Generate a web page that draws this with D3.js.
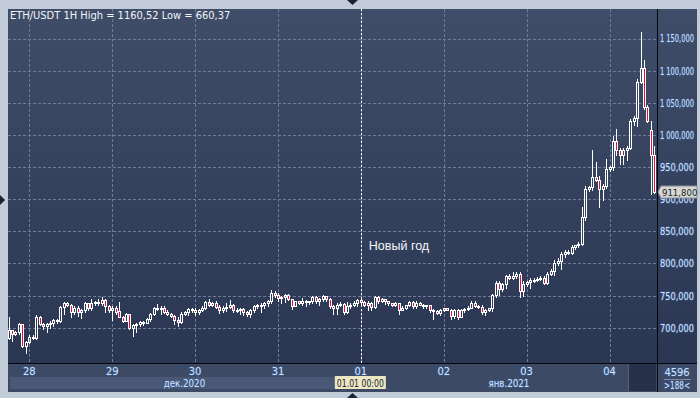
<!DOCTYPE html>
<html>
<head>
<meta charset="utf-8">
<script src="https://cdn.jsdelivr.net/npm/d3@7"></script>
<style>
body { margin: 0; background: #c2cbd8; }
svg { display: block; }
.ui { font-family: "Liberation Sans Narrow", "DejaVu Sans Condensed", "Liberation Sans", sans-serif; font-size: 11px; }
.glow { paint-order: stroke; stroke: #3f5f95; stroke-width: 1.2px; stroke-linejoin: round; }
</style>
</head>
<body>
<div id="chart"></div>
<script>
// hourly bars ETH/USDT, first bar 27.12.2020 18:00
var firstBar = new Date(2020, 11, 27, 18);

var opens = [684,696,690,693,705,671,
  678,686,684,717,706,703,706,708,712,710,732,739,735,725,730,724,727,738,730,738,740,738,743,734,
  727,730,726,717,711,721,700,704,705,709,708,713,722,730,731,730,725,722,718,712,709,722,724,729,
  727,724,728,730,740,735,739,732,727,730,732,736,727,728,729,724,721,727,733,736,735,738,741,754,
  751,746,748,751,744,734,741,739,742,740,741,748,742,745,749,744,733,731,736,737,724,733,736,738,
  743,740,735,739,732,747,742,744,741,738,735,738,728,731,735,740,733,739,736,733,735,727,726,723,
  728,730,728,718,727,717,727,729,731,738,734,732,725,728,730,751,770,760,768,780,778,780,783,757,
  768,771,775,774,776,778,770,784,789,800,804,815,818,817,826,828,831,873,916,919,934,930,916,921,
  947,950,991,977,969,976,980,1021,1026,1083,1104,1043,1008,969];
var highs = [717,697,695,707,706,680,
  688,689,719,718,708,708,710,714,713,734,740,740,737,733,733,729,740,739,745,742,745,747,745,735,
  733,733,740,718,723,722,705,707,711,710,715,723,732,737,733,733,728,723,719,716,725,726,731,730,
  730,729,733,742,745,740,741,735,734,738,743,737,730,730,730,726,729,735,737,738,740,743,758,757,
  754,750,753,752,745,742,742,746,743,742,750,749,746,751,750,746,735,738,740,739,740,738,742,745,
  744,742,741,740,749,749,746,745,742,739,740,739,733,736,742,742,741,740,737,736,736,729,727,729,
  731,731,729,729,729,729,730,733,741,742,736,736,729,731,753,772,772,770,782,783,786,787,787,772,
  773,778,778,779,780,781,787,791,805,809,818,821,821,829,829,834,888,921,921,976,958,936,923,963,
  952,998,1009,980,979,982,1024,1030,1087,1160.52,1117,1046,1022,983];
var lows = [683,680,688,690,670,660.37,
  676,683,682,704,698,694,700,703,708,709,722,733,717,721,718,715,724,728,728,735,736,735,724,725,
  712,722,716,709,710,698,687,693,702,704,707,711,720,727,722,723,720,716,705,703,707,719,720,724,
  720,722,726,729,733,734,730,723,725,726,730,725,724,722,720,718,717,725,731,725,731,733,739,748,
  742,739,740,743,729,733,737,736,734,737,738,739,735,741,742,731,722,722,733,722,723,730,734,734,
  736,733,727,727,731,739,740,737,736,733,733,722,727,729,733,730,731,735,731,731,725,713,721,720,
  726,727,714,715,713,716,725,727,730,732,730,721,719,726,726,748,751,757,762,776,776,777,748,750,
  765,762,771,772,774,768,768,782,782,797,791,810,815,815,822,825,829,867,912,914,928,888,898,918,
  944,945,968,955,955,961,978,1016,1014,1080,1040,1020,908,910];
var closes = [696,690,693,705,671,678,
  686,684,717,706,703,706,708,712,710,732,739,735,725,730,724,727,738,730,738,740,738,743,734,727,
  730,725,717,711,721,700,704,705,709,708,713,722,730,731,730,725,722,718,712,709,722,724,729,727,
  724,728,730,740,735,739,732,727,730,732,736,727,728,729,724,721,727,733,736,735,738,741,754,751,
  746,748,751,744,734,741,739,742,740,741,748,742,745,749,744,733,731,736,737,724,733,736,738,743,
  740,735,739,732,747,742,744,741,738,735,738,728,731,735,740,733,739,736,733,735,727,726,723,728,
  730,728,718,727,717,727,729,731,738,734,732,725,728,730,751,770,760,768,780,778,780,783,757,768,
  771,775,774,776,778,770,784,789,800,804,815,818,817,826,828,831,873,916,919,934,930,916,921,947,
  950,991,977,969,976,980,1021,1026,1083,1104,1043,1021,969,911.8];

var priceTicks = [700, 750, 800, 850, 900, 950, 1000, 1050, 1100, 1150];
var dayTicks = [new Date(2020, 11, 28), new Date(2020, 11, 29), new Date(2020, 11, 30), new Date(2020, 11, 31),
  new Date(2021, 0, 1), new Date(2021, 0, 2), new Date(2021, 0, 3), new Date(2021, 0, 4)];
var dayLabels = ["28", "29", "30", "31", "01", "02", "03", "04"];
var monthStarts = [new Date(2020, 11, 1), new Date(2021, 0, 1)];
var monthLabels = ["дек.2020", "янв.2021"];
var cursorTime = new Date(2021, 0, 1, 0);
var cursorLabel = "01.01 00:00";
var eventLabel = "Новый год";
var title = "ETH/USDT 1H High = 1160,52 Low = 660,37";
var barCount = "4596", visibleBars = ">188<";

var width = 700, height = 398;
var plot = { left: 8, right: 657, top: 9, bottom: 363 };
var panelRight = 697, panelBottom = 392;

var bars = closes.map(function(c, i) {
  return { t: d3.timeHour.offset(firstBar, i), o: opens[i], h: highs[i], l: lows[i], c: c };
});

var x = d3.scaleTime()
  .domain([new Date(2020, 11, 28), new Date(2021, 0, 4)])
  .range([29.3, 609.5]);
var y = d3.scaleLinear()
  .domain([700, 1150])
  .range([327.7, 38.5]);

var loc = d3.formatLocale({ decimal: ",", thousands: " ", grouping: [3], currency: ["", ""] });
var priceFmt = loc.format(",.3f");

// squeeze a text so it looks like the narrow terminal font
function squeeze(sel, factor, maxW) {
  sel.each(function() {
    var w = this.getComputedTextLength() * factor;
    if (maxW && w > maxW) w = maxW;
    this.setAttribute("textLength", w);
    this.setAttribute("lengthAdjust", "spacingAndGlyphs");
  });
}

// narrow a left-aligned text by a horizontal scale, keeping its anchor at (px, py)
function narrow(sel, px, py, factor, maxW) {
  sel.each(function(d) {
    var s = Math.min(factor, maxW / this.getComputedTextLength());
    var ax = typeof px === "function" ? px(d) : px;
    var ay = typeof py === "function" ? py(d) : py;
    this.setAttribute("x", ax / s);
    this.setAttribute("y", ay);
    this.setAttribute("transform", "scale(" + s + ",1)");
  });
}

var svg = d3.select("#chart").append("svg")
  .attr("width", width)
  .attr("height", height);

var defs = svg.append("defs");
var grad = defs.append("linearGradient").attr("id", "bg").attr("x1", 0).attr("y1", 0).attr("x2", 0).attr("y2", 1);
grad.append("stop").attr("offset", "0%").attr("stop-color", "#404d68");
grad.append("stop").attr("offset", "100%").attr("stop-color", "#2b3752");
defs.append("clipPath").attr("id", "clip").append("rect")
  .attr("x", plot.left).attr("y", plot.top)
  .attr("width", plot.right - plot.left).attr("height", plot.bottom - plot.top);

// panels
svg.append("rect")
  .attr("x", plot.left).attr("y", plot.top)
  .attr("width", panelRight - plot.left).attr("height", plot.bottom - plot.top)
  .attr("fill", "url(#bg)");
svg.append("rect")
  .attr("x", plot.left).attr("y", plot.bottom)
  .attr("width", panelRight - plot.left).attr("height", panelBottom - plot.bottom)
  .attr("fill", "#3d4a65");

// month band (first month lighter)
svg.append("rect")
  .attr("x", plot.left + 2).attr("y", 377)
  .attr("width", x(monthStarts[1]) - plot.left - 2).attr("height", 12)
  .attr("fill", "#4a5875");

// dark box bottom right of time axis
svg.append("rect").attr("x", 629).attr("y", 364).attr("width", 27).attr("height", 27).attr("fill", "#27324a");
svg.append("line").attr("x1", 628.5).attr("x2", 628.5).attr("y1", 364).attr("y2", 391)
  .attr("stroke", "#52607c");

// grid
var grid = svg.append("g").attr("stroke", "#6c7c99").attr("stroke-dasharray", "3,2").attr("shape-rendering", "crispEdges");
grid.selectAll(".hg").data(priceTicks).enter().append("line")
  .attr("x1", plot.left).attr("x2", plot.right)
  .attr("y1", function(d) { return Math.round(y(d)) + 0.5; })
  .attr("y2", function(d) { return Math.round(y(d)) + 0.5; });
grid.selectAll(".vg").data(dayTicks).enter().append("line")
  .attr("y1", plot.top).attr("y2", plot.bottom)
  .attr("x1", function(d) { return Math.round(x(d)) + 0.5; })
  .attr("x2", function(d) { return Math.round(x(d)) + 0.5; });

// cursor line
svg.append("line")
  .attr("x1", Math.round(x(cursorTime)) + 0.5).attr("x2", Math.round(x(cursorTime)) + 0.5)
  .attr("y1", plot.top).attr("y2", plot.bottom)
  .attr("stroke", "#ffffff").attr("stroke-dasharray", "2,2");

// candles
var candles = svg.append("g").attr("clip-path", "url(#clip)").attr("shape-rendering", "crispEdges");
var candle = candles.selectAll(".bar").data(bars).enter().append("g").attr("class", "bar");

function cx(d) { return Math.round(x(d.t)); }
function bodyTop(d) { return Math.round(y(Math.max(d.o, d.c))); }
function bodyBot(d) { return Math.max(Math.round(y(Math.min(d.o, d.c))), bodyTop(d) + 1); }

candle.append("line")
  .attr("x1", function(d) { return cx(d) + 0.5; })
  .attr("x2", function(d) { return cx(d) + 0.5; })
  .attr("y1", function(d) { return Math.round(y(d.h)); })
  .attr("y2", function(d) { return bodyTop(d); })
  .attr("stroke", "#fff");
candle.append("line")
  .attr("x1", function(d) { return cx(d) + 0.5; })
  .attr("x2", function(d) { return cx(d) + 0.5; })
  .attr("y1", function(d) { return bodyBot(d); })
  .attr("y2", function(d) { return Math.round(y(d.l)) + 1; })
  .attr("stroke", "#fff");
candle.append("rect")
  .attr("x", function(d) { return cx(d) - 0.5; })
  .attr("y", function(d) { return bodyTop(d) + 0.5; })
  .attr("width", 2)
  .attr("height", function(d) { return bodyBot(d) - bodyTop(d); })
  .attr("fill", function(d) { return d.c < d.o ? "#e2103a" : "none"; })
  .attr("stroke", "#fff");

// axis frame lines
svg.append("line").attr("x1", plot.left).attr("x2", panelRight).attr("y1", plot.bottom + 0.5).attr("y2", plot.bottom + 0.5)
  .attr("stroke", "#05070c");
svg.append("line").attr("x1", plot.right + 0.5).attr("x2", plot.right + 0.5).attr("y1", plot.top).attr("y2", panelBottom)
  .attr("stroke", "#05070c");

// price axis labels
var yAxis = svg.append("g").attr("class", "ui");
var yLabels = yAxis.selectAll("text").data(priceTicks).enter().append("text")
  .attr("class", "glow")
  .attr("fill", "#d2e2fa")
  .text(function(d) { return priceFmt(d); });
narrow(yLabels, plot.right + 3, function(d) { return y(d) + 4; }, 0.86, 34);

// last price marker
var last = bars[bars.length - 1];
var ly = Math.round(y(last.c));
var marker = svg.append("g").attr("class", "ui");
marker.append("path")
  .attr("d", "M" + (plot.right + 1) + "," + ly + "L" + (plot.right + 4) + "," + (ly - 6) + "H" + panelRight +
    "V" + (ly + 6) + "H" + (plot.right + 4) + "Z")
  .attr("fill", "#d6d6d2").attr("stroke", "#8a8f98");
marker.append("text")
  .attr("x", plot.right + 5).attr("y", ly + 4)
  .style("font-size", "9.5px")
  .attr("fill", "#1b1f28")
  .text(priceFmt(last.c));

// time axis labels
var xAxis = svg.append("g").attr("class", "ui").attr("fill", "#d2e2fa").attr("text-anchor", "middle");
xAxis.selectAll(".day").data(dayTicks).enter().append("text")
  .attr("class", "glow")
  .attr("x", function(d) { return x(d); })
  .attr("y", 375)
  .text(function(d, i) { return dayLabels[i]; });
var mLabels = xAxis.selectAll(".month").data(monthStarts).enter().append("text")
  .attr("class", "glow")
  .attr("x", function(d, i) {
    var a = Math.max(x(d), plot.left);
    var b = i + 1 < monthStarts.length ? x(monthStarts[i + 1]) : plot.right;
    return (a + b) / 2;
  })
  .attr("y", 387)
  .text(function(d, i) { return monthLabels[i]; });
squeeze(mLabels, 0.88);

// cursor time label
var cxl = x(cursorTime);
svg.append("rect").attr("x", cxl - 26).attr("y", 376).attr("width", 51).attr("height", 13).attr("fill", "#ebe7c3");
var curText = svg.append("text").attr("class", "ui").attr("x", cxl - 0.5).attr("y", 386.5).attr("text-anchor", "middle")
  .attr("fill", "#1d2330").text(cursorLabel);
squeeze(curText, 1, 47);

// bar counter
var cnt = svg.append("g").attr("class", "ui").attr("fill", "#d2e2fa").attr("text-anchor", "middle");
cnt.append("text").attr("class", "glow").attr("x", 677).attr("y", 376).text(barCount);
cnt.append("line").attr("x1", 664).attr("x2", 691).attr("y1", 379.5).attr("y2", 379.5).attr("stroke", "#7f8ca5");
var vb = cnt.append("text").attr("class", "glow").attr("x", 677).attr("y", 389).text(visibleBars);
squeeze(vb, 0.9, 26);

// title and event text
svg.append("text").attr("class", "ui").attr("x", 10).attr("y", 19).attr("fill", "#f2f5fa").text(title);
svg.append("text").attr("x", x(cursorTime) + 8).attr("y", 250)
  .style("font-family", "'Liberation Sans', Arial, sans-serif").style("font-size", "12.5px")
  .attr("fill", "#f4f6fa").text(eventLabel);

// small triangles around the frame
svg.append("path").attr("d", "M347,0H358L352.5,5Z").attr("fill", "#1a2233");
svg.append("path").attr("d", "M347,398H358L352.5,393Z").attr("fill", "#1a2233");
svg.append("path").attr("d", "M0,195V205L5,200Z").attr("fill", "#1a2233");
</script>
</body>
</html>
